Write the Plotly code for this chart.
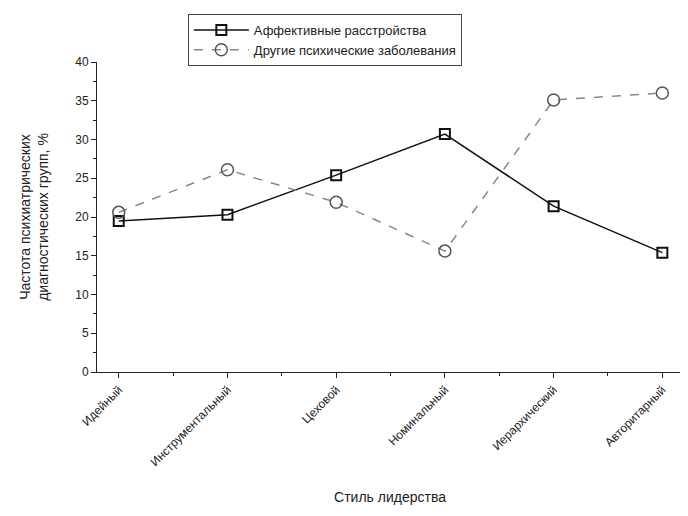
"""Leadership style vs psychiatric diagnostic groups."""

import plotly.graph_objects as go

styles = ["Идейный", "Инструментальный", "Цеховой", "Номинальный", "Иерархический", "Авторитарный"]
affective = [19.5, 20.3, 25.4, 30.7, 21.4, 15.4]
other = [20.6, 26.1, 21.9, 15.6, 35.1, 36.0]

FONT = "Liberation Sans, Arial, sans-serif"
x = list(range(len(styles)))

fig = go.Figure()
fig.add_trace(go.Scatter(
    x=x, y=affective, mode="lines+markers", name="Аффективные расстройства",
    line=dict(color="#111", width=1.5),
    marker=dict(symbol="square-open", size=10, color="#111", line=dict(width=2)),
))
fig.add_trace(go.Scatter(
    x=x, y=other, mode="lines+markers", name="Другие психические заболевания",
    line=dict(color="#888", width=1.5, dash="dash"),
    marker=dict(symbol="circle-open", size=12, color="#555", line=dict(width=1.5)),
))

fig.update_layout(
    width=688, height=516,
    margin=dict(l=89, r=13, t=54, b=152, autoexpand=False),
    paper_bgcolor="white", plot_bgcolor="white",
    font=dict(family=FONT, size=12, color="#222"),
    showlegend=True,
    legend=dict(
        x=0.155, y=1.155, xanchor="left", yanchor="top",
        bordercolor="#444", borderwidth=1, bgcolor="white",
        font=dict(size=13), itemwidth=55, tracegroupgap=0,
    ),
    xaxis=dict(
        range=[-0.2, 5.19], tickvals=x, ticktext=styles, tickangle=-45,
        showgrid=False, zeroline=False, showline=True, linecolor="#222", linewidth=1,
        ticks="outside", ticklen=5, tickcolor="#222", tickfont=dict(size=12),
        minor=dict(dtick=0.5, tick0=0.5, ticks="outside", ticklen=3, tickcolor="#222"),
        title=dict(text="Стиль лидерства", font=dict(size=14), standoff=24),
        automargin=False,
    ),
    yaxis=dict(
        range=[0, 40], dtick=5, showgrid=False, zeroline=False,
        showline=True, linecolor="#222", linewidth=1,
        ticks="outside", ticklen=5, tickcolor="#222", tickfont=dict(size=12),
        minor=dict(dtick=2.5, ticks="outside", ticklen=3, tickcolor="#222"),
        title=dict(text="Частота психиатрических<br>диагностических групп, %",
                   font=dict(size=14), standoff=23),
        automargin=False,
    ),
)

fig.write_html("out.html")
